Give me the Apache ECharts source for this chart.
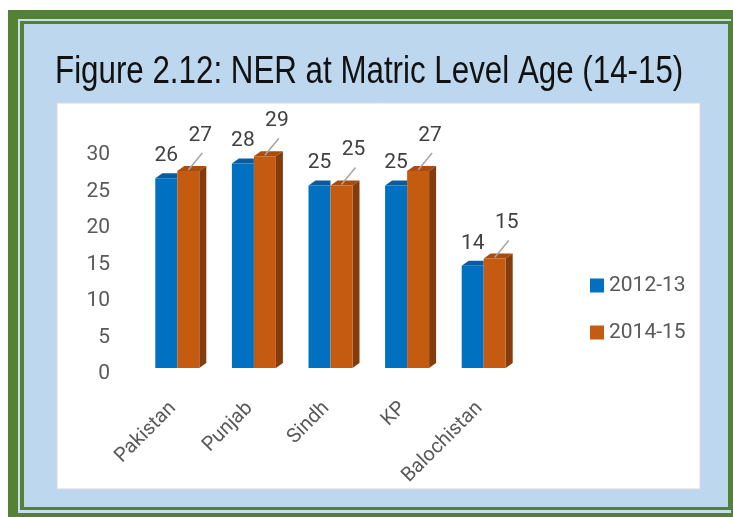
<!DOCTYPE html>
<html>
<head>
<meta charset="utf-8">
<title>NER at Matric Level</title>
<script src="https://cdn.jsdelivr.net/npm/echarts@6/dist/echarts.min.js"></script>
<style>html,body{margin:0;padding:0;background:#fff;}</style>
</head>
<body>
<div id="main" style="width:733px;height:517px;"></div>
<script type="text/javascript">
// data
var regions = ['Pakistan', 'Punjab', 'Sindh', 'KP', 'Balochistan'];
var ner2012 = [26, 28, 25, 25, 14];
var ner2014 = [27, 29, 25, 27, 15];
var seriesNames = ['2012-13', '2014-15'];
var yTicks = [0, 5, 10, 15, 20, 25, 30];

var myChart = echarts.init(document.getElementById('main'));

var BAR_W = 22, DEPTH_X = 7, DEPTH_Y = 5;

// fake 3d: top faces, right side face, and the grey leader line of the 2014-15 label
function renderDepth(params, api) {
	var i = api.value(0);
	var a = api.coord([i, api.value(1)]);
	var b = api.coord([i, api.value(2)]);
	var base = api.coord([i, 0]);
	var xc = a[0];
	var lx = xc + BAR_W / 2;
	return {
		type: 'group',
		children: [{
			type: 'polygon',
			shape: { points: [[xc - BAR_W, a[1]], [xc, a[1]], [xc, a[1] - DEPTH_Y], [xc - BAR_W + DEPTH_X, a[1] - DEPTH_Y]] },
			style: { fill: '#0b5c9e' }
		}, {
			type: 'polygon',
			shape: { points: [[xc, b[1]], [xc + BAR_W, b[1]], [xc + BAR_W + DEPTH_X, b[1] - DEPTH_Y], [xc + DEPTH_X, b[1] - DEPTH_Y]] },
			style: { fill: '#a94c0e' }
		}, {
			type: 'polygon',
			shape: { points: [[xc + BAR_W, b[1]], [xc + BAR_W + DEPTH_X, b[1] - DEPTH_Y], [xc + BAR_W + DEPTH_X, base[1] - DEPTH_Y], [xc + BAR_W, base[1]]] },
			style: { fill: '#843c0c' }
		}, {
			type: 'line',
			shape: { x1: lx, y1: b[1] - 1, x2: lx + 14, y2: b[1] - 18 },
			style: { stroke: '#a6a6a6', lineWidth: 1.5 }
		}]
	};
}

var labelFont = { fontFamily: 'Roboto', fontSize: 21, color: '#404040' };

option = {
	backgroundColor: '#fff',
	animation: false,
	graphic: [
		{ type: 'rect', shape: { x: 8, y: 10, width: 740, height: 520 }, style: { fill: '#548235' } },
		{ type: 'rect', shape: { x: 18, y: 19, width: 713, height: 494 }, style: { fill: '#c9dcef' } },
		{ type: 'rect', shape: { x: 20, y: 21, width: 711, height: 489 }, style: { fill: '#548235' } },
		{ type: 'rect', shape: { x: 24, y: 24, width: 704, height: 483 }, style: { fill: '#bdd7ee' } },
		{ type: 'rect', shape: { x: 57, y: 103, width: 643, height: 386 }, style: { fill: '#fff', stroke: '#d9d9d9', lineWidth: 1 } },
		{
			// condensed title: regular sans squeezed horizontally
			type: 'text',
			x: 55,
			y: 73,
			scaleX: 0.824,
			style: {
				text: 'Figure 2.12: NER at Matric Level Age (14-15)',
				fontFamily: 'Liberation Sans',
				fontSize: 38,
				fill: '#111',
				verticalAlign: 'middle'
			}
		}
	],
	legend: {
		data: seriesNames,
		orient: 'vertical',
		left: 590,
		top: 275,
		padding: 0,
		itemWidth: 14,
		itemHeight: 14,
		itemGap: 26,
		icon: 'rect',
		textStyle: { fontFamily: 'Roboto', fontSize: 21, lineHeight: 20, color: '#595959' }
	},
	grid: {
		left: 139,
		right: 211,
		top: 149,
		bottom: 149,
		containLabel: false,
		outerBoundsMode: 'none'
	},
	xAxis: {
		type: 'category',
		data: regions,
		axisLine: { show: false },
		axisTick: { show: false },
		axisLabel: {
			interval: 0,
			rotate: 45,
			margin: 33,
			padding: [0, 6, 0, 0],
			fontFamily: 'Roboto',
			fontSize: 20,
			color: '#595959'
		}
	},
	yAxis: {
		type: 'value',
		min: yTicks[0],
		max: yTicks[yTicks.length - 1],
		interval: yTicks[1] - yTicks[0],
		splitLine: { show: false },
		axisLine: { show: false },
		axisTick: { show: false },
		axisLabel: {
			margin: 29,
			verticalAlign: 'top',
			lineHeight: 12,
			fontFamily: 'Roboto',
			fontSize: 21,
			color: '#595959'
		}
	},
	series: [{
		name: seriesNames[0],
		type: 'bar',
		barWidth: BAR_W,
		barGap: 0,
		itemStyle: { color: '#0070c0' },
		label: Object.assign({ show: true, position: 'top', distance: 12 }, labelFont),
		data: ner2012
	}, {
		name: seriesNames[1],
		type: 'bar',
		barWidth: BAR_W,
		barGap: 0,
		itemStyle: { color: '#c55a11' },
		label: Object.assign({ show: true, position: 'top', distance: 12 }, labelFont),
		labelLayout: { dx: 12, dy: -13 },
		data: ner2014
	}, {
		type: 'custom',
		silent: true,
		z: 1,
		renderItem: renderDepth,
		encode: { x: 0, y: [1, 2] },
		data: regions.map(function (r, i) {
			return [i, ner2012[i], ner2014[i]];
		})
	}]
};

myChart.setOption(option);
</script>
</body>
</html>
